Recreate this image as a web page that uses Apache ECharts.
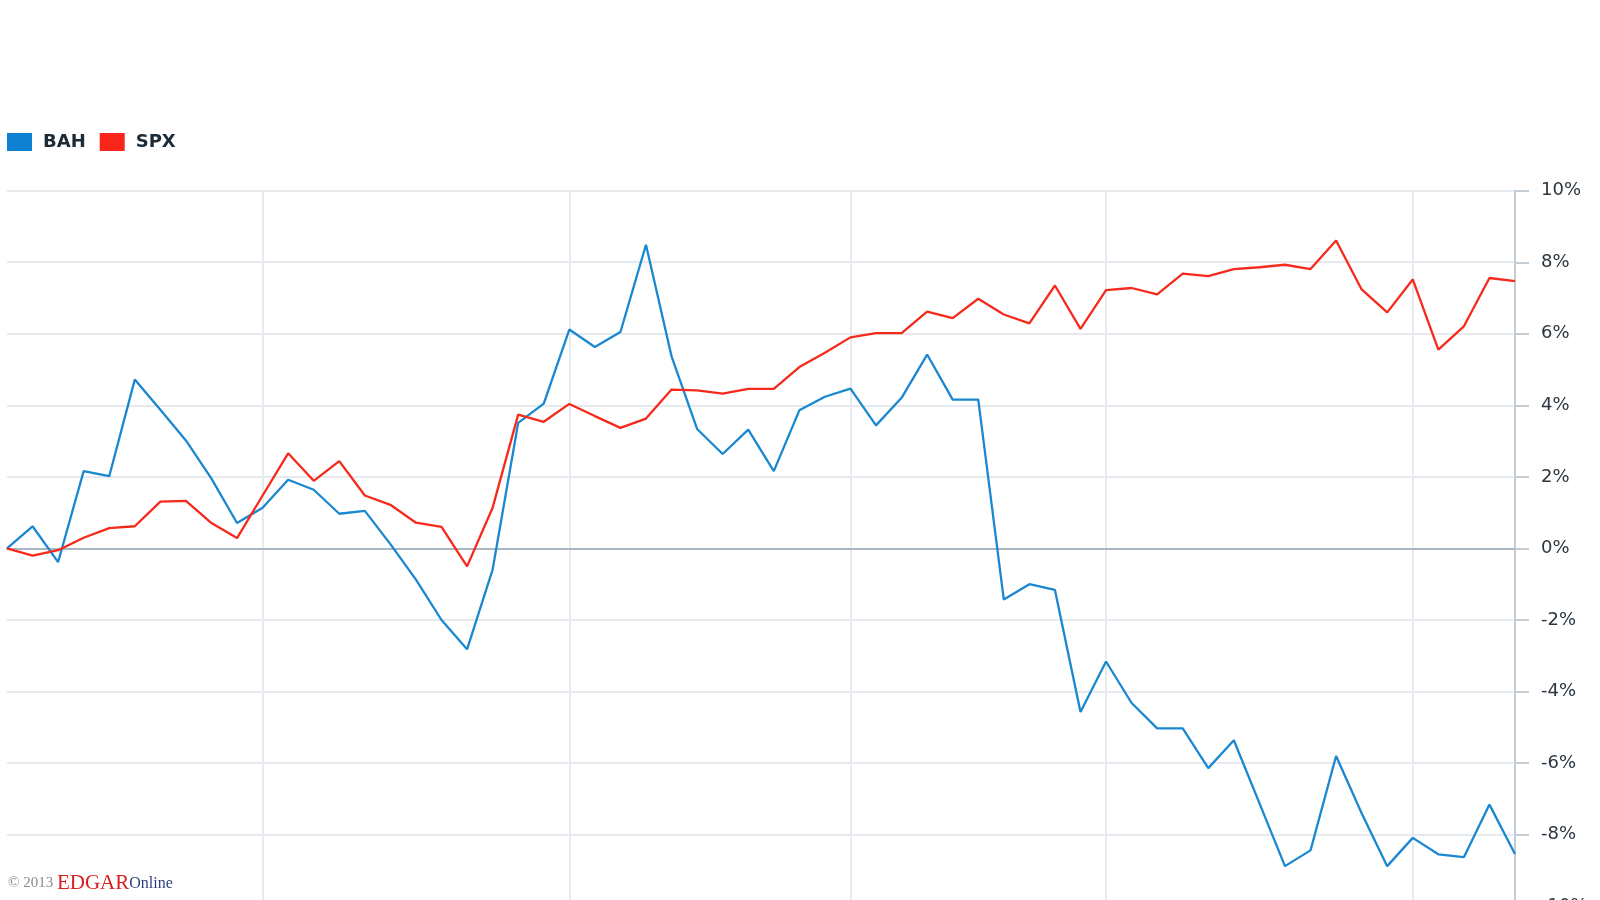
<!DOCTYPE html>
<html>
<head>
<meta charset="utf-8">
<script src="https://cdn.jsdelivr.net/npm/echarts@6/dist/echarts.min.js"></script>
<style>
html,body{margin:0;padding:0;width:1600px;height:900px;overflow:hidden;background:#fff;}
#chart{width:1600px;height:930px;}
</style>
</head>
<body>
<div id="chart"></div>
<script>
const categories = ['1','2','3','4','5','6','7','8','9','10','11','12','13','14','15','16','17','18','19','20',
  '21','22','23','24','25','26','27','28','29','30','31','32','33','34','35','36','37','38','39','40',
  '41','42','43','44','45','46','47','48','49','50','51','52','53','54','55','56','57','58','59','60'];
const bah = [0, 0.62, -0.38, 2.16, 2.02, 4.72, 3.88, 3.02, 1.95, 0.71,
  1.14, 1.92, 1.64, 0.97, 1.05, 0.12, -0.87, -2.0, -2.82, -0.59,
  3.51, 4.05, 6.12, 5.63, 6.05, 8.49, 5.37, 3.34, 2.64, 3.32,
  2.16, 3.86, 4.24, 4.47, 3.44, 4.21, 5.42, 4.16, 4.16, -1.43,
  -1.0, -1.16, -4.57, -3.16, -4.32, -5.03, -5.03, -6.14, -5.36, -7.12,
  -8.88, -8.44, -5.80, -7.40, -8.88, -8.09, -8.55, -8.63, -7.16, -8.54];
const spx = [0, -0.2, -0.05, 0.3, 0.57, 0.62, 1.31, 1.33, 0.71, 0.29,
  1.48, 2.66, 1.89, 2.44, 1.48, 1.22, 0.72, 0.6, -0.5, 1.14,
  3.74, 3.54, 4.04, 3.70, 3.37, 3.63, 4.44, 4.42, 4.33, 4.46,
  4.46, 5.07, 5.47, 5.90, 6.02, 6.02, 6.62, 6.44, 6.98, 6.54,
  6.29, 7.35, 6.14, 7.22, 7.28, 7.10, 7.68, 7.61, 7.81, 7.86,
  7.93, 7.81, 8.61, 7.24, 6.60, 7.52, 5.56, 6.21, 7.56, 7.47];
const verticalGridIdx = [10, 22, 33, 43, 55];
const yTicks = { min: -10, max: 10, step: 2 };

const chart = echarts.init(document.getElementById('chart'), null, {renderer: 'canvas'});
chart.setOption({
  backgroundColor: '#ffffff',
  animation: false,
  legend: {
    left: 7, top: 133, padding: 0,
    itemWidth: 25, itemHeight: 18, itemGap: 14,
    icon: 'rect',
    textStyle: { fontFamily: 'DejaVu Sans', fontWeight: 'bold', fontSize: 18, color: '#1c2b38', padding: [0,0,0,6] },
    data: [
      { name: 'BAH', itemStyle: { color: '#0d80d0' } },
      { name: 'SPX', itemStyle: { color: '#f8261a' } }
    ]
  },
  grid: { left: 7, right: 85, top: 190.7, bottom: 23.8 },
  xAxis: {
    type: 'category',
    data: categories,
    boundaryGap: false,
    axisLine: { show: true, onZero: true, lineStyle: { color: '#a9b7c5', width: 2 } },
    axisTick: { show: false },
    axisLabel: { show: false },
    splitLine: {
      show: true,
      interval: (idx) => verticalGridIdx.includes(idx),
      lineStyle: { color: '#e6e9ee', width: 2 }
    }
  },
  yAxis: {
    type: 'value',
    position: 'right',
    min: yTicks.min, max: yTicks.max, interval: yTicks.step,
    axisLine: { show: true, lineStyle: { color: '#c3cdd8', width: 2 } },
    axisTick: { show: true, length: 14, lineStyle: { color: '#c3cdd8', width: 2 } },
    axisLabel: { formatter: '{value}%', fontFamily: 'DejaVu Sans', fontSize: 18, color: '#2b3640', margin: 26 },
    splitLine: { show: true, lineStyle: { color: '#e6e9ee', width: 2 } }
  },
  series: [
    { name: 'BAH', type: 'line', data: bah, showSymbol: false, symbol: 'none',
      lineStyle: { color: '#1a88d0', width: 2.3 }, itemStyle: { color: '#0d80d0' }, z: 3 },
    { name: 'SPX', type: 'line', data: spx, showSymbol: false, symbol: 'none',
      lineStyle: { color: '#f52a1c', width: 2.3 }, itemStyle: { color: '#f8261a' }, z: 4 }
  ],
  graphic: [
    {
      type: 'text', left: 8, top: 873,
      style: {
        text: '{a|© 2013 }{b|EDGAR}{c|Online}',
        rich: {
          a: { fontFamily: 'Liberation Serif', fontSize: 15, fill: '#8a8a8a', color: '#8a8a8a' },
          b: { fontFamily: 'Liberation Serif', fontSize: 21, fill: '#d81e1e', color: '#d81e1e' },
          c: { fontFamily: 'Liberation Serif', fontSize: 16, fill: '#2c3f7a', color: '#2c3f7a' }
        }
      }
    }
  ]
});
</script>
</body>
</html>
